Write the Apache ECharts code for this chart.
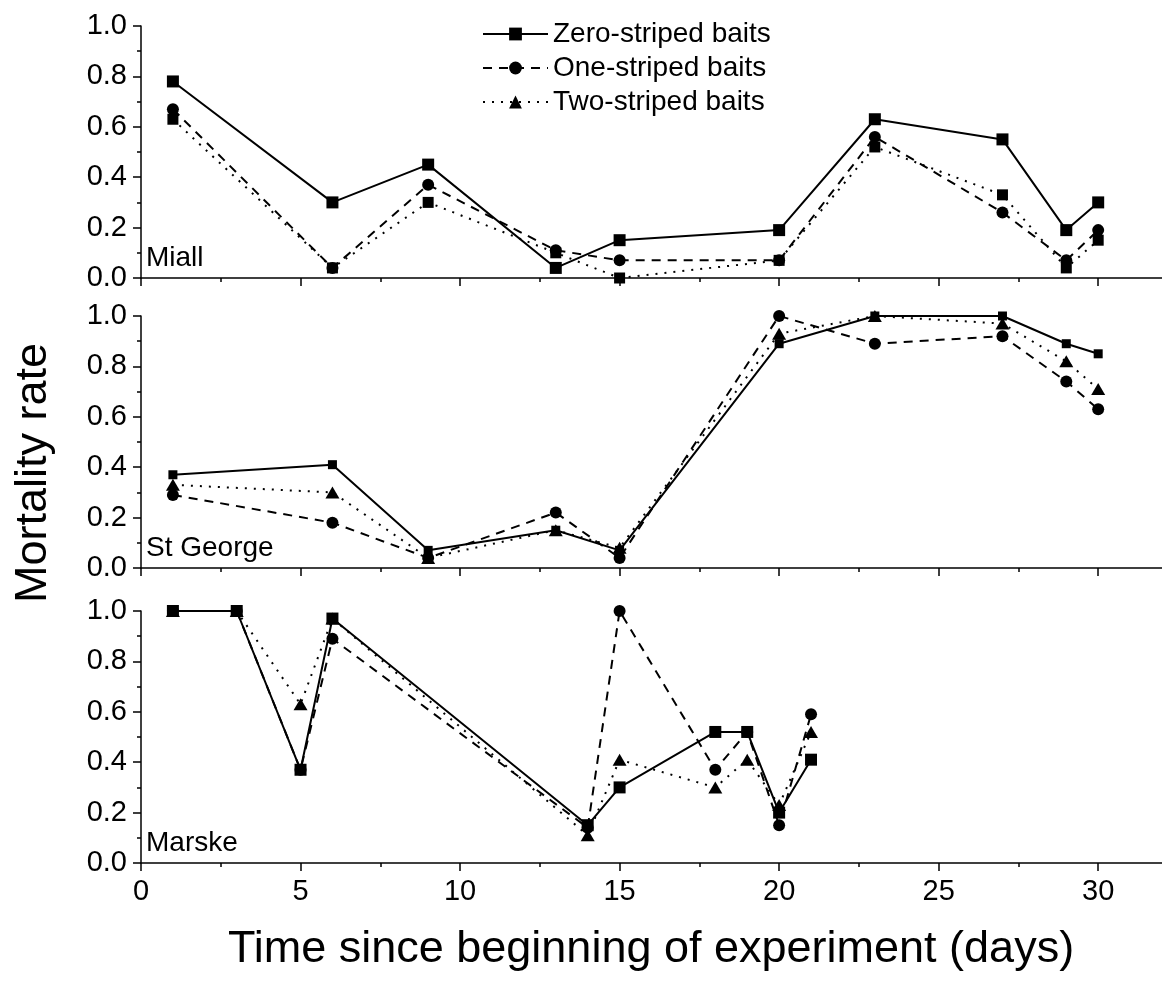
<!DOCTYPE html>
<html>
<head>
<meta charset="utf-8">
<script src="https://cdn.jsdelivr.net/npm/echarts@6.0.0/dist/echarts.min.js"></script>
<style>
  html, body { margin: 0; padding: 0; background: #fff; }
  #chart { width: 1162px; height: 983px; }
</style>
</head>
<body>
<div id="chart"></div>
<script>
// sampling days
const miallDays = [1, 6, 9, 13, 15, 20, 23, 27, 29, 30]
const stGeorgeDays = [1, 6, 9, 13, 15, 20, 23, 27, 29, 30]
const marskeDays = [1, 3, 5, 6, 14, 15, 18, 19, 20, 21]

// mortality rate per bait type
const miallZero = [0.78, 0.30, 0.45, 0.04, 0.15, 0.19, 0.63, 0.55, 0.19, 0.30]
const miallOne = [0.67, 0.04, 0.37, 0.11, 0.07, 0.07, 0.56, 0.26, 0.07, 0.19]
const miallTwo = [0.63, 0.04, 0.30, 0.10, 0.00, 0.07, 0.52, 0.33, 0.04, 0.15]

const stGeorgeZero = [0.37, 0.41, 0.07, 0.15, 0.07, 0.89, 1.00, 1.00, 0.89, 0.85]
const stGeorgeOne = [0.29, 0.18, 0.04, 0.22, 0.04, 1.00, 0.89, 0.92, 0.74, 0.63]
const stGeorgeTwo = [0.33, 0.30, 0.04, 0.15, 0.08, 0.93, 1.00, 0.97, 0.82, 0.71]

const marskeZero = [1.00, 1.00, 0.37, 0.97, 0.15, 0.30, 0.52, 0.52, 0.20, 0.41]
const marskeOne = [1.00, 1.00, 0.37, 0.89, 0.14, 1.00, 0.37, 0.52, 0.15, 0.59]
const marskeTwo = [1.00, 1.00, 0.63, 0.97, 0.11, 0.41, 0.30, 0.41, 0.23, 0.52]

const seriesNames = ['Zero-striped baits', 'One-striped baits', 'Two-striped baits']
const xTicks = [0, 5, 10, 15, 20, 25, 30]
const xMinorTicks = [2.5, 7.5, 12.5, 17.5, 22.5, 27.5]

const FONT = '"Liberation Sans", Arial, Helvetica, sans-serif'
const xMax = 32

// St George first so the legend picks the triangle icon
const panels = [
  { label: 'St George', top: 316, days: stGeorgeDays, zero: stGeorgeZero, one: stGeorgeOne, two: stGeorgeTwo, twoSymbol: 'triangle', zeroSize: 9 },
  { label: 'Miall', top: 26, days: miallDays, zero: miallZero, one: miallOne, two: miallTwo, twoSymbol: 'rect', zeroSize: 12 },
  { label: 'Marske', top: 611, days: marskeDays, zero: marskeZero, one: marskeOne, two: marskeTwo, twoSymbol: 'triangle', zeroSize: 12 }
]
const gridH = 252

const pair = (days, vals) => days.map((d, i) => [d, vals[i]])

const axisLineStyle = { color: '#000', width: 1.5 }

const grids = panels.map((p) => ({
  left: 141,
  right: 0,
  top: p.top,
  height: gridH
}))

// two x axes per grid: long ticks + labels, and a second one for the short ticks
const xAxes = []
panels.forEach((p, i) => {
  xAxes.push({
    gridIndex: i,
    type: 'value',
    min: 0,
    max: xMax,
    interval: 5,
    axisLine: { show: true, onZero: false, lineStyle: axisLineStyle },
    axisTick: { show: true, length: 8, lineStyle: axisLineStyle, customValues: xTicks },
    splitLine: { show: false },
    axisLabel: {
      show: p.label === 'Marske',
      color: '#000',
      fontFamily: FONT,
      fontSize: 29,
      margin: 14,
      customValues: xTicks
    }
  })
  xAxes.push({
    gridIndex: i,
    type: 'value',
    position: 'bottom',
    offset: 0,
    min: 0,
    max: xMax,
    axisLine: { show: false, onZero: false },
    axisTick: { show: true, length: 4, lineStyle: axisLineStyle, customValues: xMinorTicks },
    axisLabel: { show: false },
    splitLine: { show: false }
  })
})

const yAxes = panels.map((p, i) => ({
  gridIndex: i,
  type: 'value',
  min: 0,
  max: 1,
  interval: 0.2,
  axisLine: { show: true, lineStyle: axisLineStyle },
  axisTick: { show: true, length: 8, lineStyle: axisLineStyle },
  minorTick: { show: true, splitNumber: 2, length: 4, lineStyle: axisLineStyle },
  splitLine: { show: false },
  axisLabel: {
    color: '#000',
    fontFamily: FONT,
    fontSize: 29,
    margin: 14,
    formatter: (v) => v.toFixed(1)
  }
}))

const series = []
panels.forEach((p, i) => {
  const base = { type: 'line', xAxisIndex: 2 * i, yAxisIndex: i, itemStyle: { color: '#000' } }
  // drawn bottom to top: two, one, zero
  series.push({
    ...base,
    name: seriesNames[2],
    data: pair(p.days, p.two),
    symbol: p.twoSymbol,
    symbolSize: p.twoSymbol === 'triangle' ? [14, 12] : 11,
    lineStyle: { color: '#000', width: 2, type: [2, 7] }
  })
  series.push({
    ...base,
    name: seriesNames[1],
    data: pair(p.days, p.one),
    symbol: 'circle',
    symbolSize: 12,
    lineStyle: { color: '#000', width: 2, type: [9, 7] }
  })
  series.push({
    ...base,
    name: seriesNames[0],
    data: pair(p.days, p.zero),
    symbol: 'rect',
    symbolSize: p.zeroSize,
    lineStyle: { color: '#000', width: 2 }
  })
})

const panelLabels = panels.map((p) => ({
  type: 'text',
  x: 146,
  y: p.top + gridH - 20,
  style: {
    text: p.label,
    fill: '#000',
    font: '28px ' + FONT,
    textAlign: 'left',
    textVerticalAlign: 'middle'
  }
}))

const option = {
  animation: false,
  backgroundColor: '#fff',
  grid: grids,
  xAxis: xAxes,
  yAxis: yAxes,
  legend: {
    data: seriesNames,
    orient: 'vertical',
    left: 477,
    top: 15,
    itemWidth: 65,
    itemHeight: 16,
    itemGap: 6,
    textStyle: { color: '#000', fontFamily: FONT, fontSize: 28, lineHeight: 28 }
  },
  graphic: [
    ...panelLabels,
    {
      type: 'text',
      x: 651,
      y: 950,
      style: {
        text: 'Time since beginning of experiment (days)',
        fill: '#000',
        font: '45px ' + FONT,
        textAlign: 'center',
        textVerticalAlign: 'middle'
      }
    },
    {
      type: 'text',
      x: 34,
      y: 473,
      rotation: Math.PI / 2,
      style: {
        text: 'Mortality rate',
        fill: '#000',
        font: '45px ' + FONT,
        textAlign: 'center',
        textVerticalAlign: 'middle'
      }
    }
  ],
  series: series
}

const myChart = echarts.init(document.getElementById('chart'))
myChart.setOption(option)
window.addEventListener('resize', () => myChart.resize())
</script>
</body>
</html>
